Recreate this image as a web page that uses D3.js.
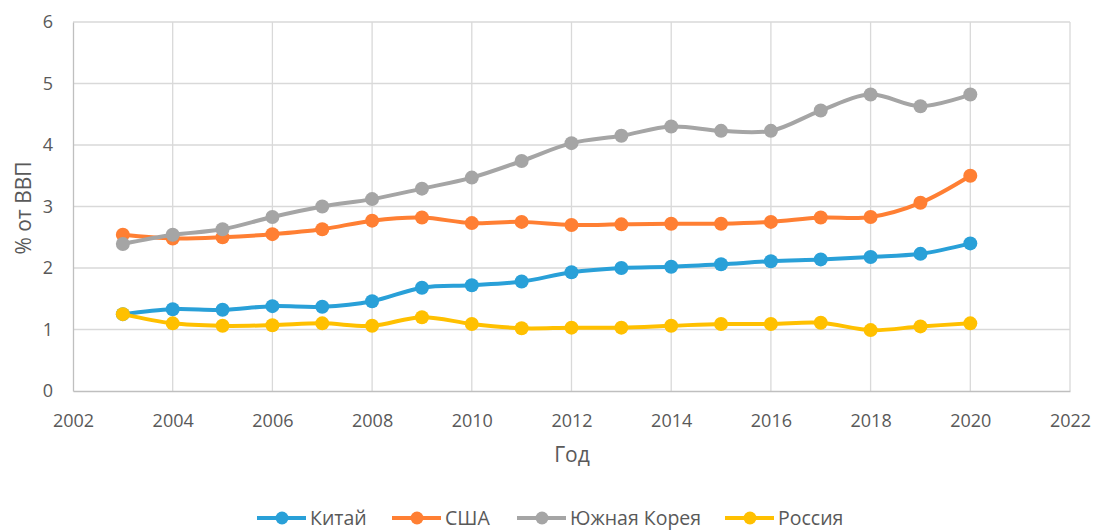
<!DOCTYPE html>
<html>
<head>
<meta charset="utf-8">
<script src="https://cdn.jsdelivr.net/npm/d3@7"></script>
<style>
  body { margin: 0; background: #fff; }
  svg text { font-family: "Open Sans", sans-serif; fill: #595959; }
</style>
</head>
<body>
<svg id="main-chart"></svg>
<script>
const years = [2003, 2004, 2005, 2006, 2007, 2008, 2009, 2010, 2011, 2012, 2013, 2014, 2015, 2016, 2017, 2018, 2019, 2020];
const china = [1.25, 1.33, 1.32, 1.38, 1.37, 1.46, 1.68, 1.72, 1.78, 1.93, 2.00, 2.02, 2.06, 2.11, 2.14, 2.18, 2.23, 2.40];
const usa = [2.54, 2.48, 2.50, 2.55, 2.63, 2.77, 2.82, 2.73, 2.75, 2.70, 2.71, 2.72, 2.72, 2.75, 2.82, 2.83, 3.06, 3.50];
const korea = [2.39, 2.54, 2.63, 2.83, 3.00, 3.12, 3.29, 3.47, 3.74, 4.03, 4.15, 4.30, 4.23, 4.23, 4.56, 4.82, 4.63, 4.82];
const russia = [1.25, 1.10, 1.06, 1.07, 1.10, 1.06, 1.20, 1.09, 1.02, 1.03, 1.03, 1.06, 1.09, 1.09, 1.11, 0.99, 1.05, 1.10];
const seriesNames = ["Китай", "США", "Южная Корея", "Россия"];
const xTicks = [2002, 2004, 2006, 2008, 2010, 2012, 2014, 2016, 2018, 2020, 2022];
const yTicks = [0, 1, 2, 3, 4, 5, 6];

const colors = ["#29A0D8", "#FF7F33", "#A5A5A5", "#FFC000"];
const seriesValues = [china, usa, korea, russia];
const series = seriesNames.map((name, i) => ({
    name: name,
    color: colors[i],
    points: years.map((y, j) => ({ year: y, value: seriesValues[i][j] }))
}));

const width = 1094, height = 530;
const margin = { top: 22, right: 24, bottom: 139, left: 73 };
const chartWidth = width - margin.left - margin.right;
const chartHeight = height - margin.top - margin.bottom;

const root = d3.select("#main-chart")
    .attr("width", width)
    .attr("height", height);

const svg = root.append("g")
    .attr("transform", `translate(${margin.left},${margin.top})`);

const xScale = d3.scaleLinear().domain([2002, 2022]).range([0, chartWidth]);
const yScale = d3.scaleLinear().domain([0, 6]).range([chartHeight, 0]);

// gridlines
svg.append("g")
    .selectAll("line")
    .data(yTicks.slice(1))
    .enter().append("line")
    .attr("x1", 0).attr("x2", chartWidth)
    .attr("y1", d => yScale(d)).attr("y2", d => yScale(d))
    .attr("stroke", "#D9D9D9").attr("stroke-width", 1.3);

svg.append("g")
    .selectAll("line")
    .data(xTicks.slice(1))
    .enter().append("line")
    .attr("x1", d => xScale(d)).attr("x2", d => xScale(d))
    .attr("y1", 0).attr("y2", chartHeight)
    .attr("stroke", "#D9D9D9").attr("stroke-width", 1.3);

// axes
const xAxis = svg.append("g")
    .attr("transform", `translate(0,${chartHeight})`)
    .call(d3.axisBottom(xScale).tickValues(xTicks).tickFormat(d3.format("d")).tickSize(0).tickPadding(23));
const yAxis = svg.append("g")
    .call(d3.axisLeft(yScale).tickValues(yTicks).tickFormat(d3.format("d")).tickSize(0).tickPadding(20));

[xAxis, yAxis].forEach(ax => {
    ax.select(".domain").attr("stroke", "#BFBFBF").attr("stroke-width", 1.3);
    ax.selectAll("text").style("font-size", "18px").attr("fill", "#595959");
});

// axis titles
root.append("text")
    .attr("transform", `translate(31,208) rotate(-90)`)
    .attr("text-anchor", "middle")
    .style("font-size", "21px")
    .text("% от ВВП");

root.append("text")
    .attr("x", 572)
    .attr("y", 462)
    .attr("text-anchor", "middle")
    .style("font-size", "21px")
    .text("Год");

// lines
const line = d3.line()
    .x(d => xScale(d.year))
    .y(d => yScale(d.value))
    .curve(d3.curveCatmullRom.alpha(0.5));

const groups = svg.selectAll(".series")
    .data(series)
    .enter().append("g")
    .attr("class", "series");

groups.append("path")
    .attr("fill", "none")
    .attr("stroke", d => d.color)
    .attr("stroke-width", 4)
    .attr("stroke-linejoin", "round")
    .attr("d", d => line(d.points));

groups.selectAll("circle")
    .data(d => d.points.map(p => ({ ...p, color: d.color })))
    .enter().append("circle")
    .attr("cx", d => xScale(d.year))
    .attr("cy", d => yScale(d.value))
    .attr("r", 7)
    .attr("fill", d => d.color);

// legend
const legendX = [257, 392, 517, 725];
const legend = root.selectAll(".legend")
    .data(series)
    .enter().append("g")
    .attr("class", "legend")
    .attr("transform", (d, i) => `translate(${legendX[i]},518)`);

legend.append("line")
    .attr("x1", 0).attr("x2", 49)
    .attr("stroke", d => d.color).attr("stroke-width", 4);
legend.append("circle")
    .attr("cx", 25).attr("r", 6.5)
    .attr("fill", d => d.color);
legend.append("text")
    .attr("x", 53)
    .attr("dy", "0.35em")
    .style("font-size", "19.5px")
    .text(d => d.name);
</script>
</body>
</html>
